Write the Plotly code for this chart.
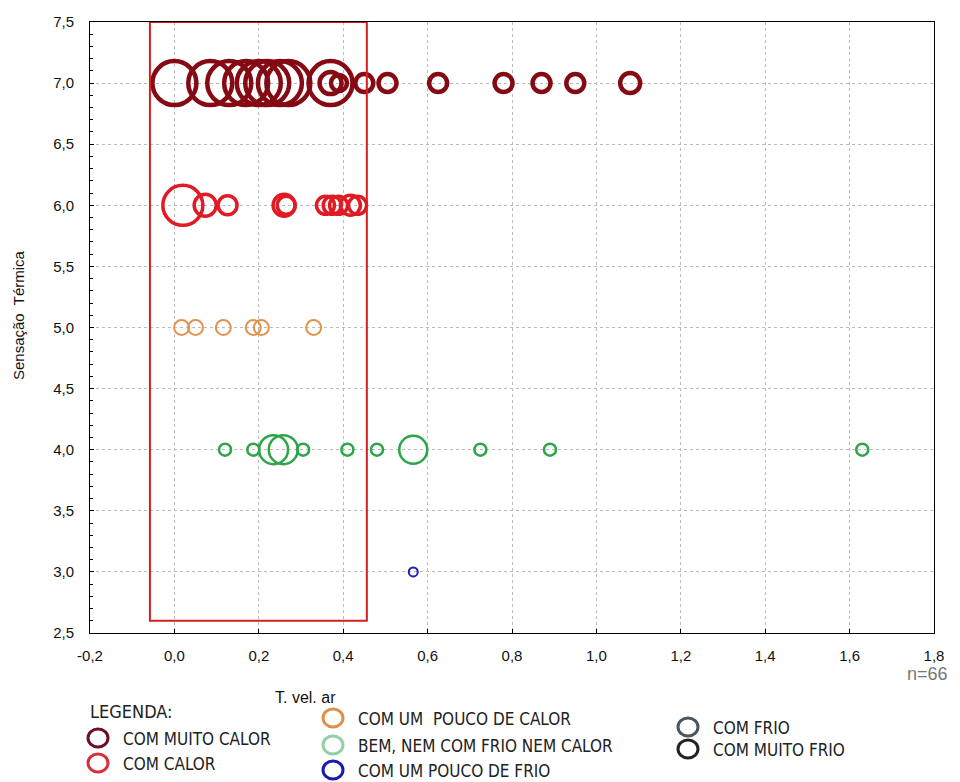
import plotly.graph_objects as go

# sensação térmica vs velocidade do ar (tamanho do circulo = frequencia)
x_muito_calor = [0.0, 0.085, 0.13, 0.17, 0.2, 0.22, 0.25, 0.27, 0.37, 0.37, 0.39, 0.45, 0.505, 0.625, 0.78, 0.87, 0.95, 1.08]
s_muito_calor = [44, 44, 44, 44, 44, 44, 44, 44, 44, 22, 16, 18, 18, 18, 18, 18, 18, 20]

x_calor = [0.02, 0.073, 0.126, 0.26, 0.265, 0.358, 0.374, 0.389, 0.417, 0.434]
s_calor = [40, 22, 19, 22, 18, 18, 18, 18, 20, 18]

x_pouco_calor = [0.017, 0.05, 0.116, 0.187, 0.206, 0.33]
s_pouco_calor = [15, 15, 15, 15, 15, 15]

x_bem = [0.12, 0.187, 0.235, 0.258, 0.305, 0.41, 0.48, 0.566, 0.725, 0.89, 1.63]
s_bem = [12, 12, 29, 29, 12, 12, 12, 28, 12, 12, 12]

x_pouco_frio = [0.566]
s_pouco_frio = [9]

y_ticks = [2.5, 3.0, 3.5, 4.0, 4.5, 5.0, 5.5, 6.0, 6.5, 7.0, 7.5]
x_ticks = [-0.2, 0.0, 0.2, 0.4, 0.6, 0.8, 1.0, 1.2, 1.4, 1.6, 1.8]

legend_labels = ["COM MUITO CALOR", "COM CALOR", "COM UM  POUCO DE CALOR",
                 "BEM, NEM COM FRIO NEM CALOR", "COM UM POUCO DE FRIO",
                 "COM FRIO", "COM MUITO FRIO"]
legend_colors = ["#6e0f22", "#d8303b", "#e0904a", "#8fd0a5", "#1a1ab0", "#4a5566", "#222222"]

fig = go.Figure()

def add_row(xs, yv, sizes, color, width):
    fig.add_trace(go.Scatter(x=xs, y=[yv] * len(xs), mode="markers",
                             marker=dict(symbol="circle-open", size=sizes, color=color, opacity=1,
                                         line=dict(width=width, color=color)),
                             showlegend=False, hoverinfo="x+y"))

add_row(x_muito_calor, 7.0, s_muito_calor, "#850a14", 4.5)
add_row(x_calor, 6.0, s_calor, "#e01b24", 3.5)
add_row(x_pouco_calor, 5.0, s_pouco_calor, "#e39350", 2)
add_row(x_bem, 4.0, s_bem, "#2ea548", 2.5)
add_row(x_pouco_frio, 3.0, s_pouco_frio, "#1c1ccc", 2)

# retangulo vermelho
fig.add_shape(type="rect", x0=-0.058, x1=0.456, y0=2.6, y1=7.5,
              line=dict(color="#d42020", width=2))

# page pixels -> paper (page has an 8px body offset)
OFF = 8
L, R, T, B = 90 - OFF, 934 - OFF, 22 - OFF, 633 - OFF
W, H = 952, 774
def px(xp):
    return (xp - OFF - L) / (R - L)
def py(yp):
    return (B - (yp - OFF)) / (B - T)

LEG_FONT = "DejaVu Sans Condensed, Arial"
leg_pos = [(98, 738), (98, 763), (333, 718), (333, 745), (333, 770), (688, 727), (688, 749)]
for (cx, cy), lab, col in zip(leg_pos, legend_labels, legend_colors):
    fig.add_shape(type="circle", xref="paper", yref="paper",
                  x0=px(cx - 10), x1=px(cx + 10), y0=py(cy + 9), y1=py(cy - 9),
                  line=dict(color=col, width=3))
    fig.add_annotation(xref="paper", yref="paper", x=px(cx + 23), y=py(cy + 1),
                       text=lab, showarrow=False, xanchor="left", yanchor="middle",
                       font=dict(family=LEG_FONT, size=17, color="#222"))

fig.add_annotation(xref="paper", yref="paper", x=px(88), y=py(711), text="LEGENDA:",
                   showarrow=False, xanchor="left", yanchor="middle",
                   font=dict(family=LEG_FONT, size=18, color="#222"))
fig.add_annotation(xref="paper", yref="paper", x=px(305), y=py(697), text="T. vel. ar",
                   showarrow=False, xanchor="center", yanchor="middle",
                   font=dict(family="Arial", size=16, color="#111"))
fig.add_annotation(xref="paper", yref="paper", x=px(950), y=py(674), text="n=66",
                   showarrow=False, xanchor="right", yanchor="middle",
                   font=dict(family="Arial", size=18, color="#777"))
fig.add_annotation(xref="paper", yref="paper", x=px(18), y=py(315), text="Sensação  Térmica",
                   textangle=-90, showarrow=False, xanchor="center", yanchor="middle",
                   font=dict(family="Arial", size=15, color="#111"))

fig.update_xaxes(range=[-0.2, 1.8], tickvals=x_ticks, automargin=False,
                 ticktext=[f"{v:.1f}".replace(".", ",") for v in x_ticks],
                 showgrid=True, gridcolor="#bbbbbb", griddash="dot", gridwidth=1,
                 showline=True, linecolor="black", linewidth=1, mirror=True,
                 ticks="inside", ticklen=4, tickcolor="black", zeroline=False,
                 ticklabelstandoff=9,
                 tickfont=dict(family="Arial", size=15, color="#111"))
fig.update_yaxes(range=[2.5, 7.5], tickvals=y_ticks, automargin=False,
                 ticktext=[f"{v:.1f}".replace(".", ",") for v in y_ticks],
                 showgrid=True, gridcolor="#bbbbbb", griddash="dot", gridwidth=1,
                 showline=True, linecolor="black", linewidth=1, mirror=True,
                 ticks="inside", ticklen=4, tickcolor="black", zeroline=False,
                 ticklabelstandoff=12,
                 minor=dict(ticks="inside", ticklen=3, dtick=0.1, tickcolor="black", showgrid=False),
                 tickfont=dict(family="Arial", size=15, color="#111"))

fig.update_layout(width=W, height=H, plot_bgcolor="white", paper_bgcolor="white",
                  margin=dict(l=L, r=W - R, t=T, b=H - B))

fig.write_html("out.html")
